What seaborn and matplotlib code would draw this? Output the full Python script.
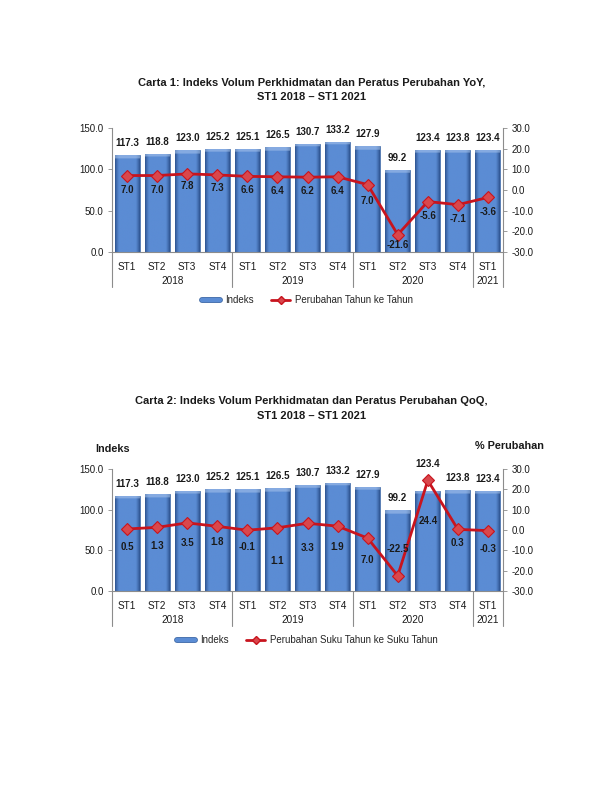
import numpy as np
import pandas as pd
import matplotlib
matplotlib.use("Agg")
import matplotlib.pyplot as plt
import matplotlib.patheffects as pe
from matplotlib.lines import Line2D
import seaborn as sns

# ---------------- data ----------------
quarters = ["ST1", "ST2", "ST3", "ST4", "ST1", "ST2", "ST3", "ST4",
            "ST1", "ST2", "ST3", "ST4", "ST1"]
years = ["2018"] * 4 + ["2019"] * 4 + ["2020"] * 4 + ["2021"]
year_names = ["2018", "2019", "2020", "2021"]
index_vals = [117.3, 118.8, 123.0, 125.2, 125.1, 126.5, 130.7, 133.2,
              127.9, 99.2, 123.4, 123.8, 123.4]
yoy_vals = [7.0, 7.0, 7.8, 7.3, 6.6, 6.4, 6.2, 6.4, 2.6, -21.6, -5.6, -7.1, -3.6]
yoy_labels = ["7.0", "7.0", "7.8", "7.3", "6.6", "6.4", "6.2", "6.4",
              "7.0", "-21.6", "-5.6", "-7.1", "-3.6"]
qoq_vals = [0.5, 1.3, 3.5, 1.8, -0.1, 1.1, 3.3, 1.9, -4.0, -22.5, 24.4, 0.3, -0.3]
qoq_labels = ["0.5", "1.3", "3.5", "1.8", "-0.1", "1.1", "3.3", "1.9",
              "7.0", "-22.5", "24.4", "0.3", "-0.3"]
left_ticks = [0, 50, 100, 150]
right_ticks = [-30, -20, -10, 0, 10, 20, 30]

# label offsets in pixels (style, not data)
yoy_dy = [-14, -14, -12, -13, -14, -14, -14, -14, -16, -10, -14, -14, -15]
qoq_dy = [-18, -19, -20, -16, -17, -33, -25, -21, -22, 27, -41, -14, -18]
bar1_dy = [7] * 13
bar2_dy = [7] * 10 + [22] + [7] * 2

# ---------------- style ----------------
sns.set_theme(style="white")
plt.rcParams["font.family"] = ["Liberation Sans", "DejaVu Sans"]
BAR_MAIN = np.array([0x5B, 0x8C, 0xD4]) / 255
BAR_DARK = np.array([0x2C, 0x52, 0x8E]) / 255
BAR_LIGHT = np.array([0xA8, 0xC4, 0xEC]) / 255
LINE_C = "#C8141E"
MARK_FC = "#D9474C"
AXIS_C = "#8C8C8C"
TXT = "#1A1A1A"

fig = plt.figure(figsize=(6.12, 7.92), dpi=100)


def shade_bars(ax, patches):
    fig.canvas.draw()
    for p in patches:
        x0, y0 = p.get_x(), p.get_y()
        w, h = p.get_width(), p.get_height()
        pts = ax.transData.transform([[x0, y0], [x0, y0 + h]])
        hpx = max(abs(pts[1, 1] - pts[0, 1]), 1)
        n = 64
        t = np.linspace(0, 1, n)
        f = np.clip(np.minimum(t, 1 - t) / 0.16, 0, 1) ** 0.8
        row = BAR_DARK + (BAR_MAIN - BAR_DARK) * f[:, None]
        m = 200
        img = np.tile(row, (m, 1, 1))
        k = int(round(m * 3.5 / hpx))
        if k > 0:
            img[:k] = img[:k] * 0.45 + BAR_LIGHT * 0.55
        im = ax.imshow(img, extent=[x0, x0 + w, y0, y0 + h], origin="upper",
                       aspect="auto", interpolation="bilinear",
                       zorder=p.get_zorder() + 0.1)
        im.set_clip_path(p)


def make_chart(rect, line_vals, line_labels, line_dy, bar_dy, title, legend_label,
               legend_y, axis_titles=False):
    ax = fig.add_axes(rect)
    df = pd.DataFrame({"cat": [f"{q} {y} {i}" for i, (q, y) in enumerate(zip(quarters, years))],
                       "idx": index_vals})
    sns.barplot(data=df, x="cat", y="idx", ax=ax, color=BAR_MAIN, width=0.83,
                edgecolor="#3B64A0", linewidth=0.5, saturation=1)
    ax.set_ylim(0, 150)
    ax.set_xlim(-0.5, len(index_vals) - 0.5)
    ax.set_yticks(left_ticks)
    ax.set_yticklabels([f"{v:.1f}" for v in left_ticks], fontsize=7, color=TXT)
    ax.set_xticks(range(len(quarters)))
    ax.set_xticklabels(quarters, fontsize=7.2, color=TXT)
    ax.set_xlabel("")
    ax.set_ylabel("")
    ax.tick_params(axis="x", length=0, pad=7)
    ax.tick_params(axis="y", length=3, width=0.6, color=AXIS_C, pad=3, direction="out", left=True)
    for s in ["top", "right"]:
        ax.spines[s].set_visible(False)
    for s in ["left", "bottom"]:
        ax.spines[s].set_color(AXIS_C)
        ax.spines[s].set_linewidth(0.8)
    ax.patch.set_alpha(0)
    shade_bars(ax, ax.patches)

    for i, (p, v) in enumerate(zip(ax.patches, index_vals)):
        ax.annotate(f"{v:.1f}", (p.get_x() + p.get_width() / 2, v),
                    xytext=(0, bar_dy[i]), textcoords="offset pixels",
                    ha="center", va="bottom", fontsize=7, fontweight="bold", color=TXT)

    # year group separators and labels
    trans = ax.get_xaxis_transform()
    bounds = [-0.5]
    start = 0
    for yn in year_names:
        cnt = years.count(yn)
        center = start + (cnt - 1) / 2
        ax.text(center, -0.235, yn, transform=trans, ha="center", va="center",
                fontsize=7.2, color=TXT)
        start += cnt
        bounds.append(start - 0.5)
    for b in bounds:
        ax.plot([b, b], [0, -0.285], transform=trans, color=AXIS_C, lw=0.8,
                clip_on=False)

    ax2 = ax.twinx()
    ldf = pd.DataFrame({"x": np.arange(len(line_vals)), "v": line_vals})
    sns.lineplot(data=ldf, x="x", y="v", ax=ax2, color=LINE_C, lw=2,
                 marker="D", markersize=6, markerfacecolor=MARK_FC,
                 markeredgecolor=LINE_C, markeredgewidth=0.8, zorder=5)
    ax2.set_ylim(-30, 30)
    ax2.set_xlim(-0.5, len(index_vals) - 0.5)
    ax2.set_yticks(right_ticks)
    ax2.set_yticklabels([f"{v:.1f}" for v in right_ticks], fontsize=7, color=TXT)
    ax2.set_ylabel("")
    ax2.set_xlabel("")
    ax2.tick_params(axis="y", length=3, width=0.6, color=AXIS_C, pad=3, direction="out", right=True)
    for s in ["top", "left", "bottom"]:
        ax2.spines[s].set_visible(False)
    ax2.spines["right"].set_color(AXIS_C)
    ax2.spines["right"].set_linewidth(0.8)
    ax2.grid(False)
    ax.grid(False)
    for i, (v, lab) in enumerate(zip(line_vals, line_labels)):
        ax2.annotate(lab, (i, v), xytext=(0, line_dy[i]), textcoords="offset pixels",
                     ha="center", va="center", fontsize=7, fontweight="bold",
                     color=TXT, zorder=6)

    # title
    fig.text(0.509, title[1], title[0], ha="center", va="center",
             fontsize=8.0, fontweight="bold", color=TXT, linespacing=1.6)

    if axis_titles:
        fig.text(113 / 612, 1 - 449 / 792, "Indeks", ha="center", va="center",
                 fontsize=7.8, fontweight="bold", color=TXT)
        fig.text(509 / 612, 1 - 446 / 792, "% Perubahan", ha="center", va="center",
                 fontsize=7.8, fontweight="bold", color=TXT)

    h1 = Line2D([0], [0], color=BAR_MAIN, lw=3.2,
                path_effects=[pe.Stroke(linewidth=4.2, foreground="#3B64A0"), pe.Normal()])
    h2 = Line2D([0], [0], color=LINE_C, lw=2, marker="D", markersize=4.5,
                markerfacecolor=MARK_FC, markeredgecolor=LINE_C)
    fig.legend([h1, h2], ["Indeks", legend_label], loc="center",
               bbox_to_anchor=(0.502, legend_y), ncol=2, frameon=False,
               fontsize=7, handlelength=1.9, handletextpad=0.5, columnspacing=1.8)
    return ax, ax2


make_chart([112 / 612, 1 - 252 / 792, 391 / 612, 124 / 792],
           yoy_vals, yoy_labels, yoy_dy, bar1_dy,
           ("Carta 1: Indeks Volum Perkhidmatan dan Peratus Perubahan YoY,\nST1 2018 \u2013 ST1 2021",
            1 - 89.5 / 792),
           "Perubahan Tahun ke Tahun", 1 - 300 / 792)

make_chart([112 / 612, 1 - 591 / 792, 391 / 612, 122 / 792],
           qoq_vals, qoq_labels, qoq_dy, bar2_dy,
           ("Carta 2: Indeks Volum Perkhidmatan dan Peratus Perubahan QoQ,\nST1 2018 \u2013 ST1 2021",
            1 - 408.5 / 792),
           "Perubahan Suku Tahun ke Suku Tahun", 1 - 640 / 792, axis_titles=True)

fig.savefig("out.png", dpi=100, facecolor="white")
